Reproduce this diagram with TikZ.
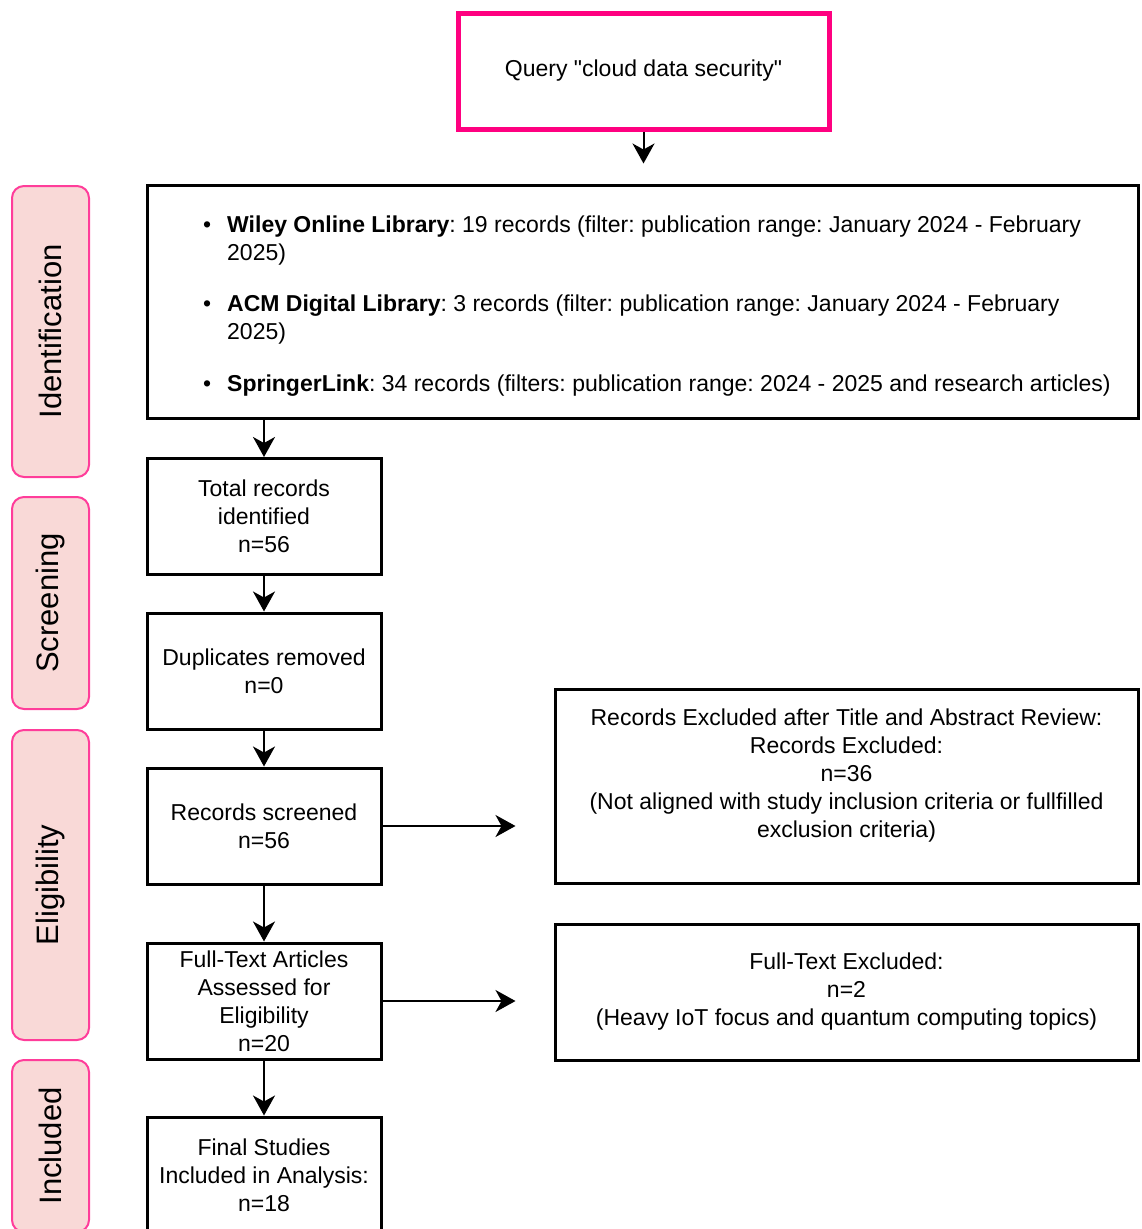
\documentclass[tikz,border=0pt]{standalone}
\usepackage{fontspec}
\setmainfont{Liberation Sans}
\usetikzlibrary{arrows.meta}
\frenchspacing
\definecolor{prpink}{HTML}{FF0080}
\definecolor{prphaseline}{HTML}{FF3D9A}
\definecolor{prphasefill}{HTML}{F9D9D7}
\tikzset{
  prtext/.style={font=\fontsize{23}{28}\selectfont},
  prbox/.style={prtext, draw=black, line width=3pt, align=center, inner sep=0pt},
  prquery/.style={prtext, draw=prpink, line width=5pt, minimum width=371pt, minimum height=116pt},
  prphase/.style={draw=prphaseline, fill=prphasefill, line width=2pt, rounded corners=12pt, inner sep=0pt, minimum height=77pt, rotate=90, font=\fontsize{31}{36}\selectfont},
  prflow/.style={line width=2pt, -{Stealth[length=20pt,width=22pt,inset=6pt]}},
  prlist/.style={prtext, align=left, anchor=north west, inner sep=0pt},
}
\begin{document}
\begin{tikzpicture}[x=1pt,y=-1pt]
\useasboundingbox (0,0) rectangle (1142,1229);
\clip (0,0) rectangle (1142,1229);
\node[prphase, minimum width=291pt] (ident) at (50.5,331.5) {Identification};
\node[prphase, minimum width=212pt] (screen) at (50.5,603) {Screening};
\node[prphase, minimum width=310pt] (elig) at (50.5,885) {Eligibility};
\node[prphase, minimum width=172pt] (incl) at (50.5,1146) {Included};
\node[prquery] (query) at (643.5,71) {Query \textquotedbl cloud data security\textquotedbl};
\node[prbox, minimum width=991pt, minimum height=233pt] (sources) at (642.5,301.5) {};
\node[prlist] (wiley) at (227,216) {\llap{\textbullet\hspace{16pt}}\textbf{Wiley Online Library}: 19 records (filter: publication range: January 2024 - February\\2025)};
\node[prlist] (acm) at (227,295) {\llap{\textbullet\hspace{16pt}}\textbf{ACM Digital Library}: 3 records (filter: publication range: January 2024 - February\\2025)};
\node[prlist] (springer) at (227,375) {\llap{\textbullet\hspace{16pt}}\textbf{SpringerLink}: 34 records (filters: publication range: 2024 - 2025 and research articles)};
\node[prbox, minimum width=234pt, minimum height=116pt] (total) at (264,516.5) {Total records\\identified\\n=56};
\node[prbox, minimum width=234pt, minimum height=116pt] (dupes) at (264,671) {Duplicates removed\\n=0};
\node[prbox, minimum width=234pt, minimum height=116pt] (screened) at (264,826) {Records screened\\n=56};
\node[prbox, minimum width=234pt, minimum height=116pt] (fulltext) at (264,1001) {Full-Text Articles\\Assessed for\\Eligibility\\n=20};
\node[prbox, minimum width=234pt, minimum height=116pt] (final) at (264,1175) {Final Studies\\Included in Analysis:\\n=18};
\node[prbox, minimum width=583pt, minimum height=194pt] (exclta) at (846.5,786) {};
\node[prtext, align=center] (excltatext) at (846.5,776) {Records Excluded after Title and Abstract Review:\\Records Excluded:\\n=36\\(Not aligned with study inclusion criteria or fullfilled\\exclusion criteria)};
\node[prbox, minimum width=583pt, minimum height=136pt] (exclft) at (846.5,992) {Full-Text Excluded:\\n=2\\(Heavy IoT focus and quantum computing topics)};
\draw[prflow, shorten >=20pt] (query.south) -- (query.south |- sources.north);
\draw[prflow] (sources.south -| total.north) -- (total.north);
\draw[prflow] (total) -- (dupes);
\draw[prflow] (dupes) -- (screened);
\draw[prflow] (screened) -- (fulltext);
\draw[prflow] (fulltext) -- (final);
\draw[prflow, shorten >=38pt] (screened.east) -- (screened.east -| exclta.west);
\draw[prflow, shorten >=38pt] (fulltext.east) -- (fulltext.east -| exclft.west);
\end{tikzpicture}
\end{document}
